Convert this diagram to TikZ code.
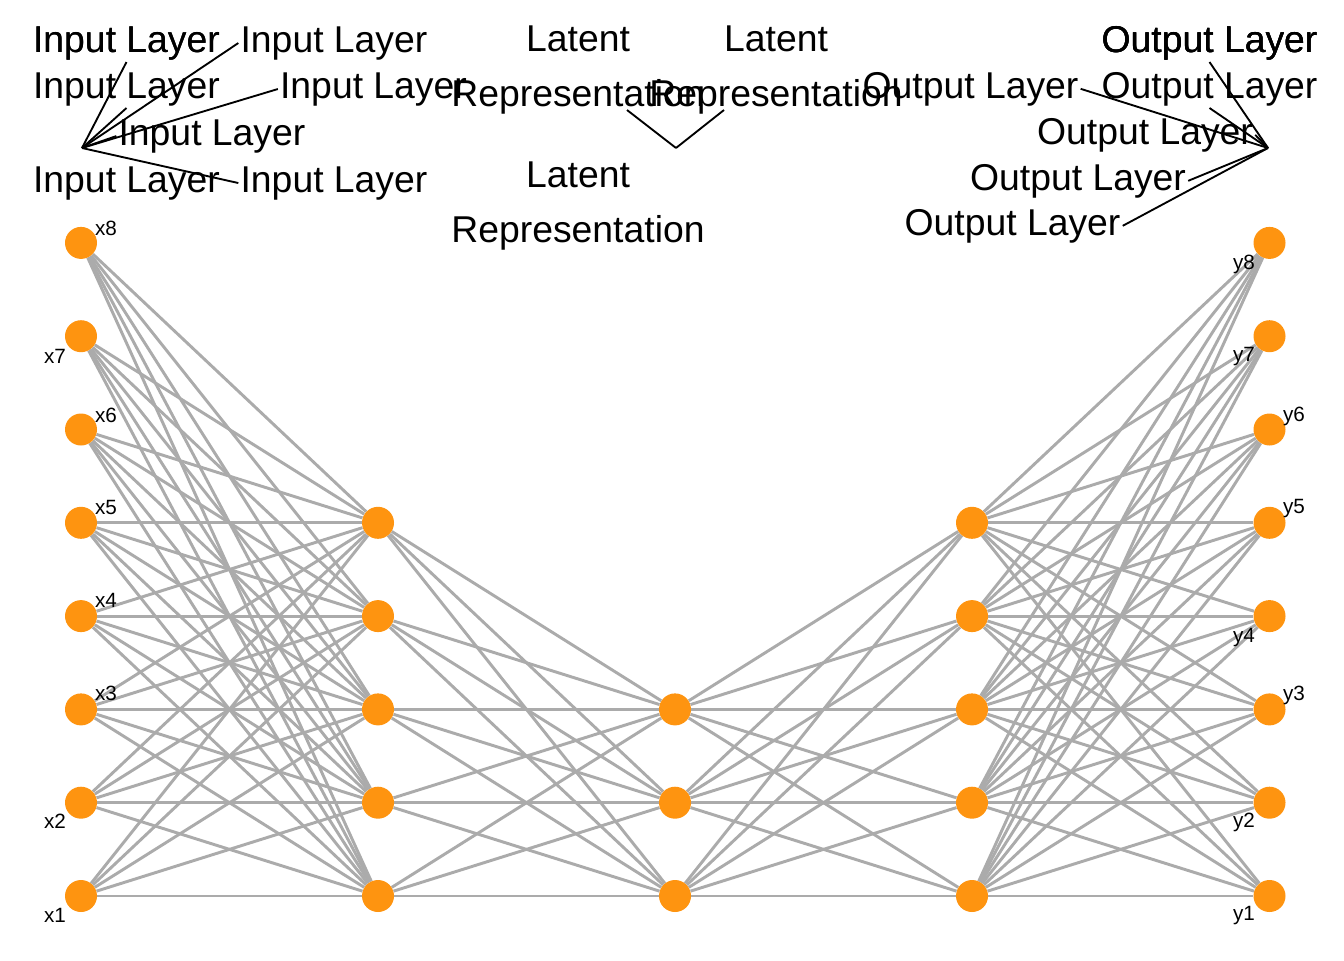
\documentclass[tikz,border=0pt]{standalone}
\usepackage{fontspec}
\setmainfont{Liberation Sans}
\usetikzlibrary{backgrounds}
\definecolor{unitorange}{RGB}{254,148,16}
\definecolor{linkgray}{RGB}{171,171,171}
\begin{document}
\begin{tikzpicture}[x=0.75pt,y=-0.75pt,
  unit/.style={circle,fill=unitorange,minimum size=24pt,inner sep=0pt},
  link/.style={draw=linkgray,line width=2.2pt},
  tag/.style={font=\fontsize{15.5}{18}\selectfont,inner sep=0pt},
  layername/.style={font=\fontsize{28}{33}\selectfont,inner sep=1.5pt,anchor=base},
  latentname/.style={font=\fontsize{28}{41.25}\selectfont,align=center,inner sep=0pt},
  leader/.style={draw=black,line width=1.4pt}]
\useasboundingbox (0,0) rectangle (1344,960);

% units of the five layers
\foreach \k in {1,...,8}{
  \node[unit] (i\k) at (81,{896-93.3*(\k-1)}) {};
  \node[unit] (o\k) at (1269.5,{896-93.3*(\k-1)}) {};
}
\foreach \k in {1,...,5}{
  \node[unit] (h\k) at (378,{896-93.3*(\k-1)}) {};
  \node[unit] (g\k) at (972,{896-93.3*(\k-1)}) {};
}
\foreach \k in {1,2,3}{
  \node[unit] (l\k) at (675,{896-93.3*(\k-1)}) {};
}

% dense connections between consecutive layers
\begin{scope}[on background layer]
\foreach \a in {1,...,8}{
  \foreach \b in {1,...,5}{
    \draw[link] (i\a) -- (h\b);
    \draw[link] (g\b) -- (o\a);
  }
}
\foreach \a in {1,...,5}{
  \foreach \b in {1,2,3}{
    \draw[link] (h\a) -- (l\b);
    \draw[link] (l\b) -- (g\a);
  }
}
\end{scope}

% unit tags
\node[tag] (tx1) at (55,915) {x1};
\node[tag] (tx2) at (55,821) {x2};
\node[tag] (tx3) at (106,693) {x3};
\node[tag] (tx4) at (106,600) {x4};
\node[tag] (tx5) at (106,507) {x5};
\node[tag] (tx6) at (106,415) {x6};
\node[tag] (tx7) at (55,356) {x7};
\node[tag] (tx8) at (106,228) {x8};
\node[tag] (ty1) at (1244,916) {y1};
\node[tag] (ty2) at (1244,822) {y2};
\node[tag] (ty3) at (1294,695) {y3};
\node[tag] (ty4) at (1244,638) {y4};
\node[tag] (ty5) at (1294,509) {y5};
\node[tag] (ty6) at (1294,416) {y6};
\node[tag] (ty7) at (1244,357) {y7};
\node[tag] (ty8) at (1244,264) {y8};

% input layer names
\coordinate (ia) at (82,148);
\node[layername] (il1) at (126.5,52) {Input Layer};
\node[layername] (il8) at (126.5,52) {Input Layer};
\node[layername] (il2) at (334,52) {Input Layer};
\node[layername] (il3) at (126.5,98) {Input Layer};
\node[layername] (il4) at (373.5,98) {Input Layer};
\node[layername] (il5) at (212,145) {Input Layer};
\node[layername] (il6) at (126.5,192) {Input Layer};
\node[layername] (il7) at (334,192) {Input Layer};
\draw[leader] (ia) -- (il1.south);
\draw[leader] (ia) -- (il2.west);
\draw[leader] (ia) -- (il3.south);
\draw[leader] (ia) -- (il4.west);
\draw[leader] (ia) -- (il5.west);
\draw[leader] (ia) -- (il7.west);

% latent names
\coordinate (la) at (676,148);
\node[latentname] (ll1) at (578,70) {Latent\\Representation};
\node[latentname] (ll2) at (776,70) {Latent\\Representation};
\node[latentname] (ll3) at (578,206) {Latent\\Representation};
\coordinate (le1) at (627,110);
\coordinate (le2) at (724,110);
\draw[leader] (la) -- (le1);
\draw[leader] (la) -- (le2);

% output layer names
\coordinate (oa) at (1268,148);
\node[layername] (ol1) at (1209.5,52) {Output Layer};
\node[layername] (ol7) at (1209.5,52) {Output Layer};
\node[layername] (ol8) at (1209.5,52) {Output Layer};
\node[layername] (ol2) at (970.5,98) {Output Layer};
\node[layername] (ol3) at (1209.5,98) {Output Layer};
\node[layername] (ol4) at (1145,144) {Output Layer};
\node[layername] (ol5) at (1078,190) {Output Layer};
\node[layername] (ol6) at (1012.5,235) {Output Layer};
\draw[leader] (oa) -- (ol1.south);
\draw[leader] (oa) -- (ol2.east);
\draw[leader] (oa) -- (ol3.south);
\draw[leader] (oa) -- (ol4.east);
\draw[leader] (oa) -- (ol5.east);
\draw[leader] (oa) -- (ol6.east);
\end{tikzpicture}
\end{document}
